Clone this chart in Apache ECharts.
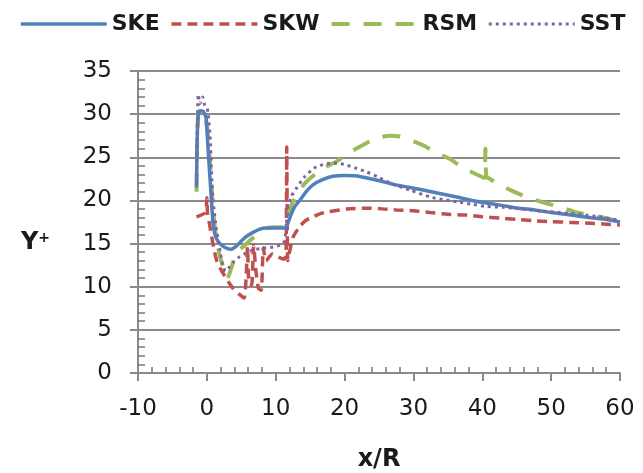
<!DOCTYPE html>
<html>
<head>
<meta charset="utf-8">
<script src="https://cdn.jsdelivr.net/npm/echarts@6/dist/echarts.min.js"></script>
<style>
html,body{margin:0;padding:0;background:#fff;}
#chart{width:643px;height:473px;}
</style>
</head>
<body>
<div id="chart"></div>
<script>
// ---- data ----
const seriesNames = ['SKE', 'SKW', 'RSM', 'SST'];

const skeX = [-1.5,-1.45,-1.35,-1.2,-0.9,-0.5,-0.1,0.1,0.3,0.5,0.7,0.9,1.2,1.65,2.3,2.9,3.5,4.1,4.9,5.7,6.7,7.6,8.6,10,11.4,11.7,12.1,12.7,13.5,14.4,15.4,16.8,18.3,20,21.5,23.6,25.5,27.4,29.5,31.4,33.8,36.3,38.5,40.6,43,45.2,47.6,50,52.9,55.8,58,60];
const skeY = [21.5,25,28.5,30.0,30.4,30.3,29.5,27,24.5,22,19.5,17.3,16.0,15.2,14.7,14.45,14.35,14.6,15.2,15.8,16.3,16.65,16.8,16.8,16.8,17.2,18.1,19.2,20.0,21.0,21.8,22.4,22.8,22.9,22.85,22.55,22.2,21.8,21.5,21.2,20.8,20.4,20.0,19.7,19.4,19.1,18.9,18.6,18.3,18.0,17.8,17.5];

const skwX = [-1.5,-0.2,0.0,0.1,0.4,0.7,1.0,1.4,1.9,2.4,3.1,3.8,4.6,5.4,5.7,5.9,6.1,6.5,6.8,7.1,7.5,7.9,8.2,8.6,9.5,10.5,11.2,11.5,11.6,11.75,12.0,12.5,13.5,14.4,15.4,16.6,17.8,20.3,22.7,25,27.5,30,32.4,35,37.7,40,42.5,44.9,47.5,49.9,52.8,55.7,58,60];
const skwY = [18.1,18.6,20.3,18.5,17.2,15.8,14.5,13.1,12.2,11.5,10.6,9.8,9.2,8.7,11,14.6,10.5,10.2,14.8,12,9.8,9.6,14.5,13.0,13.8,13.4,13.2,13.6,26.2,13.0,14.0,15.7,17.0,17.7,18.1,18.5,18.7,19.0,19.1,19.05,18.9,18.8,18.6,18.4,18.3,18.1,17.95,17.8,17.65,17.55,17.45,17.35,17.25,17.15];

const rsmX = [-1.5,-1.45,-1.35,-1.2,-0.9,-0.5,-0.2,0.1,0.4,0.7,0.9,1.3,1.9,2.5,3.0,3.4,4.3,5.5,6.6,7.7,8.7,10,11.4,11.6,12.3,13.5,14.5,16.8,18.8,20.8,22.4,24.6,26.6,28,29.5,31.4,33.4,35.3,37.2,39.2,40.3,40.45,40.6,41.3,42.1,44.1,46.4,48.7,51,53.3,55.6,58,60];
const rsmY = [21.0,25,28.5,30.3,30.5,30.3,29.5,28,25,21.6,18.9,16.0,13.5,12.0,11.0,11.8,13.9,14.8,15.6,16.2,16.8,16.9,16.9,17.7,19.5,21.2,22.2,23.7,24.5,25.6,26.3,27.2,27.5,27.4,27.0,26.4,25.5,24.8,23.8,23.0,22.6,26.0,22.8,22.4,22.0,21.2,20.4,19.8,19.3,18.7,18.3,17.95,17.5];

const sstX = [-1.5,-1.45,-1.35,-1.25,-1.0,-0.6,-0.3,0.0,0.2,0.5,0.7,0.9,1.4,1.9,2.3,2.7,3.2,3.8,4.8,5.7,6.7,8.0,9.6,11.1,11.5,11.8,12.3,13.0,14.2,15.9,17.9,19.0,20.3,21.8,23.2,24.9,26.6,28,29.5,32.4,34.3,36.3,38.5,40.6,43,45.2,46.9,49.8,52.7,55,57,60];
const sstY = [22,26,30,32.3,31.2,32.0,31.0,30.8,30,27,23,20,16.6,14.3,12.5,11.8,12.2,12.8,13.5,13.9,14.25,14.45,14.6,15.0,16.5,19.3,20.5,21.4,22.75,23.9,24.3,24.3,24.1,23.7,23.3,22.7,22.0,21.6,21.2,20.4,20.1,19.85,19.55,19.3,19.2,19.05,18.9,18.7,18.5,18.3,18.1,17.7];

const xTicks = {min: -10, max: 60, step: 10};
const yTicks = {min: 0, max: 35, step: 5};

// ---- chart ----
function pairs(xs, ys) { return xs.map((x, i) => [x, ys[i]]); }

const colors = ['#4F81BD', '#C0504D', '#9BBB59', '#8064A2'];
const lineStyles = [
  {width: 3.5, type: 'solid'},
  {width: 3.5, type: [10, 6]},
  {width: 4, type: [18, 14]},
  {width: 3, type: [3, 4]}
];
const dataSets = [pairs(skeX, skeY), pairs(skwX, skwY), pairs(rsmX, rsmY), pairs(sstX, sstY)];

const chart = echarts.init(document.getElementById('chart'), null, {renderer: 'canvas'});
const font = 'DejaVu Sans';
const gridColor = '#8a8a8a';
const textColor = '#1a1a1a';

const xBase = {
  type: 'value', position: 'bottom',
  min: xTicks.min, max: xTicks.max, interval: xTicks.step
};
const yBase = {
  type: 'value', position: 'left',
  min: yTicks.min, max: yTicks.max, interval: yTicks.step
};

chart.setOption({
  animation: false,
  backgroundColor: '#fff',
  color: colors,
  legend: {
    top: 8,
    left: 14,
    itemWidth: 86,
    itemHeight: 14,
    itemGap: 10,
    itemStyle: {opacity: 0},
    textStyle: {fontFamily: font, fontSize: 22, fontWeight: 'bold', color: textColor},
    data: seriesNames.map((n, i) => ({
      name: n,
      itemStyle: {opacity: 0},
      lineStyle: Object.assign({color: colors[i]}, lineStyles[i])
    }))
  },
  grid: {left: 138, right: 23, top: 71, bottom: 100, containLabel: false, outerBoundsMode: 'none'},
  xAxis: [
    Object.assign({}, xBase, {
      name: 'x/R',
      nameLocation: 'middle',
      nameGap: 75,
      nameTextStyle: {fontFamily: font, fontSize: 24, fontWeight: 'bold', color: textColor},
      axisLine: {show: true, onZero: false, lineStyle: {color: gridColor, width: 2}},
      axisTick: {show: true, inside: false, length: 8, lineStyle: {color: gridColor, width: 2}},
      minorTick: {show: false},
      axisLabel: {fontFamily: font, fontSize: 23, color: textColor, margin: 25},
      splitLine: {show: false}
    }),
    Object.assign({}, xBase, {
      axisLine: {show: false, onZero: false},
      axisTick: {show: true, inside: true, length: 1, lineStyle: {color: gridColor, width: 1, opacity: 0}},
      minorTick: {show: true, splitNumber: 5, length: 6, lineStyle: {color: '#7a7a7a', width: 1.5}},
      axisLabel: {show: false},
      splitLine: {show: false}
    })
  ],
  yAxis: [
    Object.assign({}, yBase, {
      name: 'Y{s|+}',
      nameLocation: 'middle',
      nameRotate: 0,
      nameGap: 88,
      nameTextStyle: {fontFamily: font, fontSize: 24, fontWeight: 'bold', color: textColor,
        padding: [42, 0, 0, 0],
        rich: {s: {fontFamily: font, fontSize: 14, fontWeight: 'bold', verticalAlign: 'top', color: textColor, padding: [0,0,9,0]}}},
      axisLine: {show: true, onZero: false, lineStyle: {color: gridColor, width: 2}},
      axisTick: {show: true, inside: false, length: 8, lineStyle: {color: gridColor, width: 2}},
      minorTick: {show: false},
      axisLabel: {fontFamily: font, fontSize: 23, color: textColor, margin: 26},
      splitLine: {show: true, lineStyle: {color: gridColor, width: 2}}
    }),
    Object.assign({}, yBase, {
      axisLine: {show: false, onZero: false},
      axisTick: {show: true, inside: true, length: 1, lineStyle: {color: gridColor, width: 1, opacity: 0}},
      minorTick: {show: true, splitNumber: 5, length: 7, lineStyle: {color: '#7a7a7a', width: 1.5}},
      axisLabel: {show: false},
      splitLine: {show: false}
    })
  ],
  series: seriesNames.map((n, i) => ({
    name: n,
    type: 'line',
    data: dataSets[i],
    symbol: 'none',
    smooth: 0.2,
    lineStyle: Object.assign({color: colors[i]}, lineStyles[i]),
    z: [4, 2, 3, 5][i]
  }))
});
</script>
</body>
</html>
